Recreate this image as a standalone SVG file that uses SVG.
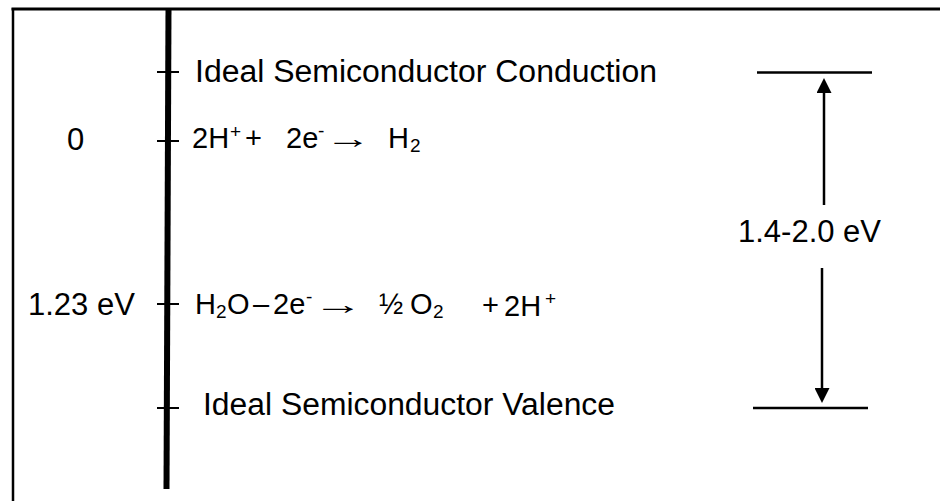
<svg xmlns="http://www.w3.org/2000/svg" width="940" height="501" viewBox="0 0 940 501">
<style>
.t{font-family:"Liberation Sans",Arial,sans-serif;font-size:31px;fill:#000}
.eq{font-family:"Liberation Sans",Arial,sans-serif;font-size:29px;fill:#000}
.s{font-size:19px}
.ln{stroke:#000;stroke-width:2.5;fill:none}
.tick{stroke:#000;stroke-width:2;fill:none}
</style>
<defs>
<marker id="ah" markerUnits="userSpaceOnUse" markerWidth="15" markerHeight="15" viewBox="0 0 15 15" refX="0" refY="7.5" orient="auto">
<path d="M0,0 L15,7.5 L0,15 z" fill="#000"/>
</marker>
</defs>
<rect x="0" y="0" width="940" height="501" fill="#fff"/>
<g id="frame">
<line x1="11.5" y1="9" x2="940" y2="9" stroke="#000" stroke-width="3"/>
<line x1="13" y1="8" x2="13" y2="501" stroke="#000" stroke-width="2.5"/>
</g>
<g id="axis">
<line x1="168.5" y1="8" x2="166.5" y2="489" stroke="#000" stroke-width="6"/>
</g>
<g id="conduction">
<line class="tick" x1="157" y1="72" x2="179" y2="72"/>
<text class="t" x="195" y="82" textLength="462" lengthAdjust="spacingAndGlyphs">Ideal Semiconductor Conduction</text>
</g>
<g id="hydrogen">
<line class="tick" x1="157" y1="141" x2="179" y2="141"/>
<text class="t" x="67" y="150">0</text>
<text class="eq" y="148"><tspan x="192">2H</tspan><tspan class="s" x="230" y="138">+</tspan><tspan x="245" y="148">+</tspan><tspan x="286" y="148">2e</tspan><tspan class="s" x="318" y="137">-</tspan><tspan x="388" y="148">H</tspan><tspan class="s" x="410" y="152">2</tspan></text>
<text class="eq" x="325" y="148" textLength="46" lengthAdjust="spacingAndGlyphs">→</text>
</g>
<g id="oxygen">
<line class="tick" x1="157" y1="304" x2="179" y2="304"/>
<text class="t" x="28" y="315">1.23 eV</text>
<text class="eq" y="314"><tspan x="195">H</tspan><tspan class="s" x="216" y="318">2</tspan><tspan x="227" y="314">O</tspan><tspan x="253" y="314">–</tspan><tspan x="273" y="314">2e</tspan><tspan class="s" x="306" y="303">-</tspan><tspan x="379" y="314">½</tspan><tspan x="410" y="314">O</tspan><tspan class="s" x="433" y="318">2</tspan><tspan x="482" y="315">+</tspan><tspan x="504" y="316">2H</tspan><tspan class="s" x="545" y="305">+</tspan></text>
<text class="eq" x="313" y="314" textLength="50" lengthAdjust="spacingAndGlyphs">→</text>
</g>
<g id="valence">
<line class="tick" x1="157" y1="408" x2="179" y2="408"/>
<text class="t" x="203" y="415" textLength="412" lengthAdjust="spacingAndGlyphs">Ideal Semiconductor Valence</text>
</g>
<g id="gap">
<line class="ln" x1="757" y1="72.5" x2="872" y2="72.5"/>
<line class="ln" x1="753" y1="408" x2="868" y2="408"/>
<text class="t" x="738" y="242">1.4-2.0 eV</text>
</g>
<g id="connectors">
<line class="ln" x1="824" y1="205" x2="824" y2="93" marker-end="url(#ah)"/>
<line class="ln" x1="822" y1="268" x2="822" y2="388" marker-end="url(#ah)"/>
</g>
</svg>
